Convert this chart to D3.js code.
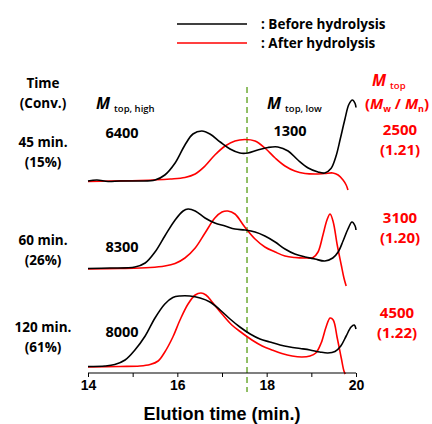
<!DOCTYPE html>
<html><head><meta charset="utf-8">
<script src="https://cdn.jsdelivr.net/npm/d3@7"></script>
<style>body{margin:0;background:#fff}</style>
</head><body><svg id="c" width="432" height="424"></svg>
<script>
// ---- data ----
const xTicks = [14,15,16,17,18,19,20];
const xTickLabels = ["14","","16","","18","","20"];
const panelOffsets = [19.25, 10.5, 0.7];   // baseline of each stacked trace
const timeLabels = ["45 min.","60 min.","120 min."];
const convLabels = ["(15%)","(26%)","(61%)"];
const mtopRed = ["2500","3100","4500"];
const dispersity = ["(1.21)","(1.20)","(1.22)"];
const mHigh = ["6400","8300","8000"];
const dividerTime = 17.56;

// panel 1 (45 min)
const p1BeforeT = [14.0,14.2,14.45,14.72,15.16,15.5,15.72,15.95,16.17,16.35,16.55,16.73,16.96,17.18,17.4,17.58,17.8,18.03,18.25,18.48,18.7,18.93,19.15,19.3,19.44,19.55,19.65,19.75,19.84,19.92,19.98,20.0];
const p1BeforeV = [-0.05,0.05,-0.1,-0.05,-0.05,0.05,0.55,1.75,3.55,4.65,4.95,4.65,3.85,3.15,2.75,2.75,3.05,3.3,3.35,2.95,2.05,1.25,0.85,0.75,1.2,2.4,4.2,6.1,7.6,8.05,7.7,7.3];
const p1AfterT = [14.0,14.49,15.16,15.84,16.17,16.4,16.62,16.84,17.07,17.29,17.51,17.74,17.96,18.19,18.41,18.63,18.86,19.08,19.3,19.48,19.6,19.71,19.78,19.82];
const p1AfterV = [-0.1,-0.05,0,0.15,0.3,0.65,1.45,2.55,3.45,3.95,4.1,3.95,3.25,2.25,1.45,0.95,0.7,0.65,0.7,0.75,0.55,0.05,-0.45,-0.95];
// panel 2 (60 min)
const p2BeforeT = [14.0,14.49,15.05,15.28,15.5,15.72,15.95,16.13,16.24,16.4,16.62,16.84,17.07,17.29,17.51,17.74,17.96,18.19,18.41,18.63,18.86,19.08,19.3,19.48,19.6,19.71,19.82,19.91,19.98,20.0];
const p2BeforeV = [-0.05,0,0.1,0.5,1.6,3.2,4.8,5.7,5.9,5.7,5.0,4.5,4.2,3.9,3.8,3.6,3.2,2.6,1.9,1.4,1.1,0.9,0.7,1.0,1.6,2.7,3.9,4.6,4.2,3.8];
const p2AfterT = [14.0,14.72,15.39,15.72,15.95,16.17,16.4,16.62,16.84,17.0,17.13,17.29,17.51,17.74,17.96,18.19,18.41,18.63,18.86,19.04,19.15,19.26,19.35,19.42,19.49,19.58,19.67,19.73,19.78];
const p2AfterV = [-0.1,-0.05,0.05,0.2,0.45,1.0,2.0,3.5,5.0,5.6,5.7,5.4,4.1,2.9,2.1,1.6,1.2,1.05,1.0,1.05,1.6,3.3,4.8,5.4,4.6,2.3,0.3,-1.0,-1.8];
// panel 3 (120 min)
const p3BeforeT = [14.0,14.38,14.6,14.83,15.05,15.28,15.5,15.72,15.9,16.06,16.28,16.51,16.73,16.96,17.18,17.4,17.63,17.85,18.07,18.3,18.52,18.75,18.97,19.19,19.37,19.53,19.66,19.78,19.89,19.96,20.0];
const p3BeforeV = [-0.05,0,0.15,0.6,1.6,3.0,4.8,6.2,6.85,7.0,7.0,6.8,6.4,5.6,4.7,3.9,3.2,2.7,2.4,2.1,1.9,1.75,1.6,1.4,1.3,1.45,2.0,3.0,3.9,4.1,3.7];
const p3AfterT = [14.0,14.72,15.16,15.39,15.57,15.72,15.9,16.06,16.24,16.4,16.53,16.64,16.78,17.0,17.22,17.45,17.67,17.9,18.12,18.34,18.57,18.79,18.97,19.1,19.22,19.33,19.42,19.49,19.58,19.67,19.73,19.76];
const p3AfterV = [-0.1,-0.05,0,0.15,0.5,1.4,2.9,4.6,6.2,7.1,7.3,7.1,6.4,5.2,4.1,3.3,2.6,2.0,1.6,1.25,1.0,0.9,1.0,1.3,2.3,3.9,4.8,4.6,2.8,0.8,-0.5,-0.8];

const panels = [
  {before:[p1BeforeT,p1BeforeV], after:[p1AfterT,p1AfterV]},
  {before:[p2BeforeT,p2BeforeV], after:[p2AfterT,p2AfterV]},
  {before:[p3BeforeT,p3BeforeV], after:[p3AfterT,p3AfterV]}
];

// ---- drawing ----
const svg = d3.select("#c");
const x = d3.scaleLinear().domain([14,20]).range([88,356]);
const y = d3.scaleLinear().domain([0,29.3]).range([373,80]);
const F = "'Open Sans', sans-serif";
const A = "'Liberation Sans', Arial, sans-serif";

// divider
svg.append("line").attr("x1",x(dividerTime)).attr("x2",x(dividerTime))
  .attr("y1",y(29.3)+7).attr("y2",392)
  .attr("stroke","#77b043").attr("stroke-width",1.6).attr("stroke-dasharray","6,4");

const line = d3.line().x(d=>x(d[0])).y(d=>y(d[1])).curve(d3.curveCatmullRom.alpha(0.5));
panels.forEach((p,i)=>{
  const off = panelOffsets[i];
  [["after","#ff0000"],["before","#000000"]].forEach(([k,col])=>{
    const pts = p[k][0].map((t,j)=>[t, p[k][1][j]+off]);
    svg.append("path").attr("d",line(pts)).attr("fill","none")
      .attr("stroke",col).attr("stroke-width",1.6);
  });
});

// x axis
const ax = svg.append("g").attr("transform","translate(0,373)")
  .call(d3.axisBottom(x).tickValues(xTicks).tickFormat((d,i)=>xTickLabels[i]).tickSize(4).tickPadding(3));
ax.select(".domain").attr("stroke","#000").attr("stroke-width",1.2).attr("d","M88,0H356");
ax.selectAll(".tick line").attr("stroke","#000");
ax.selectAll(".tick text").attr("font-family",A).attr("font-weight","bold").attr("font-size",14).attr("fill","#000");
svg.append("text").attr("x",222).attr("y",420).attr("text-anchor","middle")
  .attr("font-family",A).attr("font-weight","bold").attr("font-size",18).text("Elution time (min.)");

// legend
const leg = [["#000",": Before hydrolysis",24],["#ff0000",": After hydrolysis",43]];
leg.forEach(([c,t,yy])=>{
  svg.append("line").attr("x1",177).attr("x2",247).attr("y1",yy).attr("y2",yy).attr("stroke",c).attr("stroke-width",1.6);
  svg.append("text").attr("x",261).attr("y",yy+5).attr("font-family",F).attr("font-weight",700).attr("font-size",13.5).text(t);
});

// left column
function txt(xx,yy,t,col,size,anchor){
  return svg.append("text").attr("x",xx).attr("y",yy).attr("text-anchor",anchor||"middle")
    .attr("font-family",F).attr("font-weight",700).attr("font-size",size||13.5).attr("fill",col||"#000").text(t);
}
txt(43,88,"Time"); txt(43,108,"(Conv.)");
const rowY = [[147,167],[245,265],[332,352]];
timeLabels.forEach((t,i)=>{ txt(43,rowY[i][0],t); txt(43,rowY[i][1],convLabels[i]); });

// M labels
function mLabel(xx,yy,sub,col,anchor){
  const t = svg.append("text").attr("x",xx).attr("y",yy).attr("text-anchor",anchor||"start")
    .attr("font-family",F).attr("font-weight",700).attr("fill",col||"#000");
  t.append("tspan").attr("font-style","italic").attr("font-size",16).text("M");
  t.append("tspan").attr("font-size",9.5).attr("font-weight",600).attr("dx",4).attr("dy",3).text(sub);
}
mLabel(96,109,"top, high");
mLabel(267,109,"top, low");
mLabel(372,86,"top","#ff0000");
// (Mw / Mn)
const mw = svg.append("text").attr("x",397).attr("y",109).attr("text-anchor","middle")
  .attr("font-family",F).attr("font-weight",700).attr("font-size",15).attr("fill","#ff0000");
mw.append("tspan").text("(");
mw.append("tspan").attr("font-style","italic").text("M");
mw.append("tspan").attr("font-size",9).attr("dy",3).text("w");
mw.append("tspan").attr("dy",-3).text(" / ");
mw.append("tspan").attr("font-style","italic").text("M");
mw.append("tspan").attr("font-size",9).attr("dy",3).text("n");
mw.append("tspan").attr("dy",-3).text(")");

// numbers
const highY = [138,252,337];
mHigh.forEach((t,i)=>txt(122,highY[i],t,"#000",14.5));
txt(290,136,"1300","#000",14.5);
const redY = [[135,155],[223,243],[318,338]];
mtopRed.forEach((t,i)=>{ txt(i==2?397:400,redY[i][0],t,"#ff0000",15); txt(i==2?397:400,redY[i][1],dispersity[i],"#ff0000",15); });
</script></body></html>
